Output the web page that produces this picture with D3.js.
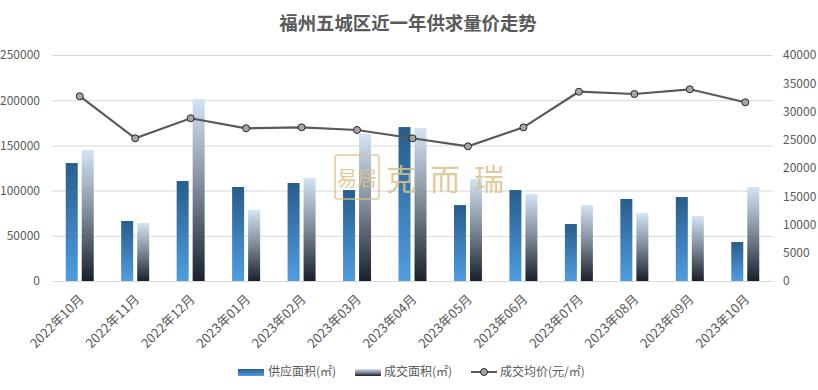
<!DOCTYPE html>
<html><head><meta charset="utf-8">
<script src="https://cdn.jsdelivr.net/npm/d3@7/dist/d3.min.js"></script>
<style>body{margin:0;background:#fff;font-family:"Microsoft YaHei","Noto Sans CJK SC",sans-serif}</style>
</head><body><svg id="c" width="818" height="390"></svg>
<script>
const categories = ["2022年10月","2022年11月","2022年12月","2023年01月","2023年02月","2023年03月","2023年04月","2023年05月","2023年06月","2023年07月","2023年08月","2023年09月","2023年10月"];
const supplyArea = [130500,66400,110600,104000,108400,100600,170300,84000,100600,63000,90700,92900,43100];
const dealArea = [145000,64100,201300,78500,113900,162600,169200,112800,96200,84000,75200,71900,104000];
const avgPrice = [32700,25260,28800,27030,27200,26730,25260,23840,27200,33500,33100,33930,31630];
const leftTicks = [0,50000,100000,150000,200000,250000];
const rightTicks = [0,5000,10000,15000,20000,25000,30000,35000,40000];
const seriesNames = ["供应面积(㎡)","成交面积(㎡)","成交均价(元/㎡)"];
const title = "福州五城区近一年供求量价走势";

const svg = d3.select("#c");
const font = '"Microsoft YaHei","Noto Sans CJK SC",sans-serif';
const m = {l:52, r:45, t:55, b:109};
const W = 818, H = 390;
const x = d3.scaleBand().domain(categories).range([m.l, W-m.r]);
const yL = d3.scaleLinear().domain([0,250000]).range([H-m.b, m.t]);
const yR = d3.scaleLinear().domain([0,40000]).range([H-m.b, m.t]);

const defs = svg.append("defs");
const g1 = defs.append("linearGradient").attr("id","gBlue").attr("x1",0).attr("y1",0).attr("x2",0).attr("y2",1);
g1.append("stop").attr("offset","0%").attr("stop-color","#285d8b");
g1.append("stop").attr("offset","100%").attr("stop-color","#4f9de0");
const g2 = defs.append("linearGradient").attr("id","gDark").attr("x1",0).attr("y1",0).attr("x2",0).attr("y2",1);
g2.append("stop").attr("offset","0%").attr("stop-color","#d3e4f4");
g2.append("stop").attr("offset","50%").attr("stop-color","#7d8896");
g2.append("stop").attr("offset","100%").attr("stop-color","#18202b");

svg.append("text").attr("x",408).attr("y",30).attr("text-anchor","middle")
  .attr("font-family",font).attr("font-size",18.4).attr("font-weight","bold").attr("fill","#595959").text(title);

// grid
svg.append("g").selectAll("line").data(leftTicks).join("line")
  .attr("x1",m.l).attr("x2",W-m.r).attr("y1",d=>yL(d)+0.5).attr("y2",d=>yL(d)+0.5)
  .attr("stroke","#d9d9d9").attr("stroke-width",1);

// axes labels
const axL = svg.append("g").attr("transform",`translate(${m.l},0)`)
  .call(d3.axisLeft(yL).tickValues(leftTicks).tickSize(0).tickPadding(12).tickFormat(d3.format("d")));
axL.select(".domain").remove();
axL.selectAll("text").attr("font-family",font).attr("font-size",12).attr("fill","#595959");
const axR = svg.append("g").attr("transform",`translate(${W-m.r},0)`)
  .call(d3.axisRight(yR).tickValues(rightTicks).tickSize(0).tickPadding(10).tickFormat(d3.format("d")));
axR.select(".domain").remove();
axR.selectAll("text").attr("font-family",font).attr("font-size",12).attr("fill","#595959");

// bars
const bw = 12, gap = 4;
const bars = svg.append("g");
bars.selectAll("rect.s").data(categories).join("rect").attr("class","s")
  .attr("x",d=>x(d)+x.bandwidth()/2-gap/2-bw).attr("width",bw)
  .attr("y",(d,i)=>yL(supplyArea[i])).attr("height",(d,i)=>yL(0)-yL(supplyArea[i]))
  .attr("fill","url(#gBlue)");
bars.selectAll("rect.d").data(categories).join("rect").attr("class","d")
  .attr("x",d=>x(d)+x.bandwidth()/2+gap/2).attr("width",bw)
  .attr("y",(d,i)=>yL(dealArea[i])).attr("height",(d,i)=>yL(0)-yL(dealArea[i]))
  .attr("fill","url(#gDark)");

// watermark
const wm = svg.append("g").attr("opacity",0.85);
wm.append("rect").attr("x",335).attr("y",155).attr("width",44).attr("height",44).attr("rx",3)
  .attr("fill","none").attr("stroke","#dcc28c").attr("stroke-width",1.5);
wm.append("text").attr("x",357).attr("y",186).attr("text-anchor","middle").attr("font-family",font)
  .attr("font-size",20).attr("fill","#dcc28c").text("易居");
wm.append("text").attr("x",386).attr("y",190).attr("font-family",font).attr("font-size",30)
  .attr("fill","#dcc28c").attr("letter-spacing","14").text("克而瑞");

// line
const cx = d=>x(d)+x.bandwidth()/2;
svg.append("path").datum(avgPrice)
  .attr("d",d3.line().x((v,i)=>cx(categories[i])).y(v=>yR(v)))
  .attr("fill","none").attr("stroke","#595959").attr("stroke-width",2.2);
svg.append("g").selectAll("circle").data(avgPrice).join("circle")
  .attr("cx",(v,i)=>cx(categories[i])).attr("cy",v=>yR(v)).attr("r",3.5)
  .attr("fill","#a6a6a6").attr("stroke","#262626").attr("stroke-width",1);

// x labels
svg.append("g").selectAll("text").data(categories).join("text")
  .attr("transform",d=>`translate(${cx(d)+5},${H-m.b+19}) rotate(-45)`)
  .attr("text-anchor","end").attr("font-family",font).attr("font-size",13).attr("fill","#595959")
  .text(d=>d);

// legend
const ly = 372;
const lg = svg.append("g").attr("font-family",font).attr("font-size",12).attr("fill","#595959");
lg.append("rect").attr("x",238).attr("y",ly-3).attr("width",26).attr("height",7).attr("fill","url(#gBlue)");
lg.append("text").attr("x",268).attr("y",ly+4).text(seriesNames[0]);
lg.append("rect").attr("x",355).attr("y",ly-3).attr("width",26).attr("height",7).attr("fill","url(#gDark)");
lg.append("text").attr("x",384).attr("y",ly+4).text(seriesNames[1]);
lg.append("line").attr("x1",471).attr("x2",497).attr("y1",ly).attr("y2",ly).attr("stroke","#595959").attr("stroke-width",2);
lg.append("circle").attr("cx",484).attr("cy",ly).attr("r",3.5).attr("fill","#a6a6a6").attr("stroke","#262626");
lg.append("text").attr("x",500).attr("y",ly+4).text(seriesNames[2]);
</script></body></html>
